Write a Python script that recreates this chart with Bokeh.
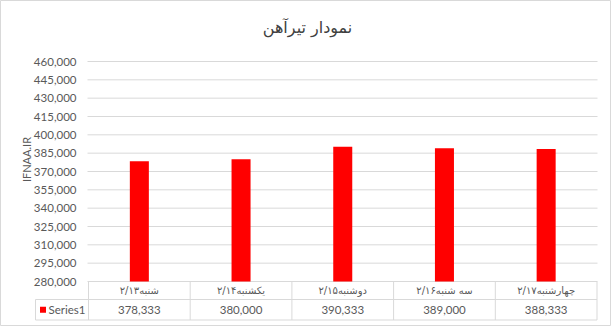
from math import pi
from bokeh.plotting import figure
from bokeh.models import Range1d
from bokeh.core.properties import value
from bokeh.embed import file_html
from bokeh.resources import INLINE

# ---- data ----
title_text = "نمودار تیرآهن"
axis_title = "IFNAA.IR"
series_name = "Series1"
categories = ["شنبه۲/۱۳", "یکشنبه۲/۱۴", "دوشنبه۲/۱۵", "سه شنبه۲/۱۶", "چهارشنبه۲/۱۷"]
values = [378333, 380000, 390333, 389000, 388333]
y_ticks = [280000, 295000, 310000, 325000, 340000, 355000, 370000,
           385000, 400000, 415000, 430000, 445000, 460000]
y_tick_labels = ["280,000", "295,000", "310,000", "325,000", "340,000", "355,000", "370,000",
                 "385,000", "400,000", "415,000", "430,000", "445,000", "460,000"]

# ---- layout constants (pixels) ----
W, H = 611, 326
PX_L, PX_R = 88.0, 596.5          # plot area / table columns
CW = (PX_R - PX_L) / len(categories)
Y_MIN_PX, Y_MAX_PX = 281.0, 61.0  # pixel rows of axis min / max
y_min, y_max = y_ticks[0], y_ticks[-1]
per_px = (y_max - y_min) / (Y_MIN_PX - Y_MAX_PX)

GRID = "#d9d9d9"
TXT = "#595959"
RED = "#ff0000"
LAT = value("Lato")
AR = value("DejaVu Sans")

p = figure(width=W, height=H, output_backend="svg", toolbar_location=None,
           x_axis_type=None, y_axis_type=None,
           x_range=Range1d(-PX_L / CW, (W - PX_L) / CW),
           y_range=Range1d(y_min - (H - Y_MIN_PX) * per_px, y_max + Y_MAX_PX * per_px),
           min_border=0)
p.extra_x_ranges = {"px": Range1d(0, W)}
p.extra_y_ranges = {"px": Range1d(H, 0)}
p.outline_line_color = GRID
p.outline_line_width = 1
p.background_fill_color = "white"
p.border_fill_color = "white"

centers = [i + 0.5 for i in range(len(categories))]

# gridlines (value scale)
p.segment(x0=[PX_L - 1] * len(y_ticks), x1=[PX_R + 0.5] * len(y_ticks), y0=y_ticks, y1=y_ticks,
          x_range_name="px", line_color=GRID, line_width=1)

# bars
p.vbar(x=centers, top=values, bottom=y_min, width=0.187, fill_color=RED, line_color=None)

# tick labels
p.text(x=[76] * len(y_ticks), y=y_ticks, text=y_tick_labels, x_range_name="px",
       text_align="right", text_baseline="middle", text_font=LAT,
       text_font_size="11.5px", text_color=TXT)

# axis title
p.text(x=[26], y=[159], text=[axis_title], x_range_name="px", y_range_name="px",
       angle=pi / 2, text_align="center", text_baseline="middle", text_font=LAT,
       text_font_size="11px", text_color=TXT)

# chart title
p.text(x=[307], y=[27], text=[title_text], x_range_name="px", y_range_name="px",
       text_align="center", text_baseline="middle", text_font=AR,
       text_font_size="16px", text_color="#404040")

# data table lines
edges = list(range(len(categories) + 1))
p.segment(x0=edges, x1=edges, y0=[Y_MIN_PX] * len(edges), y1=[319.5] * len(edges),
          y_range_name="px", line_color=GRID, line_width=1)
p.segment(x0=[35, 35, 35], x1=[PX_R, PX_R, 35], y0=[299, 319.5, 299], y1=[299, 319.5, 319.5],
          x_range_name="px", y_range_name="px", line_color=GRID, line_width=1)

# table text
p.text(x=centers, y=[290] * len(categories), text=categories, y_range_name="px",
       text_align="center", text_baseline="middle", text_font=AR,
       text_font_size="10px", text_color=TXT)
p.text(x=centers, y=[309] * len(values), text=[f"{v:,}" for v in values], y_range_name="px",
       text_align="center", text_baseline="middle", text_font=LAT,
       text_font_size="11.5px", text_color=TXT)

# legend key
p.rect(x=[42.5], y=[309.3], width=6, height=6, x_range_name="px", y_range_name="px",
       fill_color=RED, line_color=None)
p.text(x=[48], y=[309], text=[series_name], x_range_name="px", y_range_name="px",
       text_align="left", text_baseline="middle", text_font=LAT,
       text_font_size="11.5px", text_color=TXT)

open("out.html", "w").write(file_html(p, INLINE))
